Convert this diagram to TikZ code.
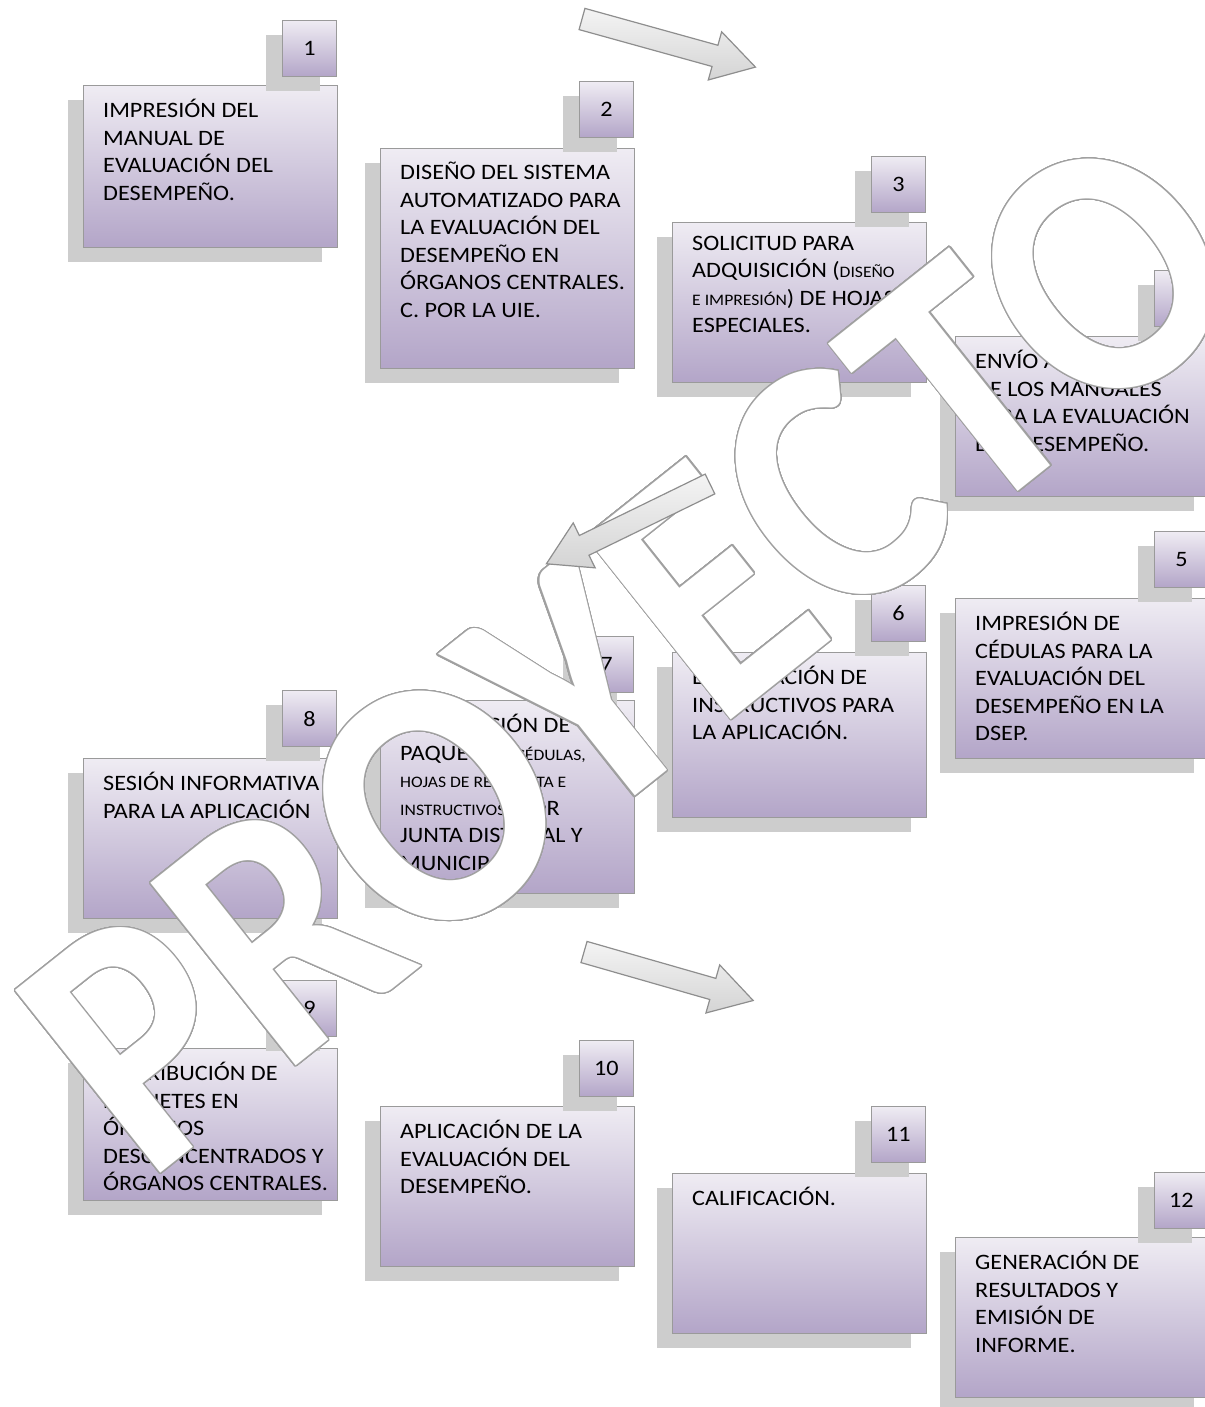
\documentclass[tikz,border=0pt]{standalone}
\usepackage{fontspec}
\setmainfont{Carlito}[FakeStretch=1.1]
\newfontfamily\markfont{Carlito}
\usepackage[copies]{contour}
\usetikzlibrary{shadows}

\definecolor{boxtop}{HTML}{EFECF3}
\definecolor{boxmid}{HTML}{DCD5E5}
\definecolor{boxbot}{HTML}{B3A5C8}
\definecolor{boxline}{HTML}{9A9A9A}
\definecolor{boxshade}{HTML}{CDCDCD}
\definecolor{arrowtop}{HTML}{F4F4F4}
\definecolor{arrowbot}{HTML}{D4D4D4}
\definecolor{arrowline}{HTML}{8E8E8E}
\definecolor{markline}{HTML}{A0A0A0}

\newcommand{\smalltxt}[1]{{\fontsize{16}{27.5}\selectfont #1}}
\contourlength{1.2pt}
\contournumber{40}

\begin{document}
\begin{tikzpicture}[%
  x=1pt, y=-1pt,
  taskbox/.style={draw=boxline, line width=1.2pt, top color=boxtop,
    middle color=boxmid, bottom color=boxbot, minimum width=254pt,
    inner sep=0pt, anchor=north west,
    general shadow={fill=boxshade, shadow xshift=-16pt, shadow yshift=-14pt}},
  numbox/.style={taskbox, minimum width=54pt, minimum height=56pt,
    anchor=north east, font=\fontsize{22}{27.5}\selectfont},
  tasktext/.style={anchor=north west, align=left, inner sep=0pt,
    font=\fontsize{22}{27.5}\selectfont},
  blockarrow/.style={draw=arrowline, line width=1.2pt, top color=arrowtop,
    bottom color=arrowbot},
]

  \useasboundingbox (0,0) rectangle (1204,1407);

  % first row
  \node[taskbox, minimum height=162pt] (b1) at (83,85) {};
  \node[numbox] (n1) at (337,20) {1};
  \node[tasktext] (t1) at ([xshift=20pt, yshift=-14pt]b1.north west)
    {IMPRESIÓN DEL\\MANUAL DE\\EVALUACIÓN DEL\\DESEMPEÑO.};

  \node[taskbox, minimum height=220pt] (b2) at (380,148) {};
  \node[numbox] (n2) at (634,81) {2};
  \node[tasktext] (t2) at ([xshift=20pt, yshift=-14pt]b2.north west)
    {DISEÑO DEL SISTEMA\\AUTOMATIZADO PARA\\LA EVALUACIÓN DEL\\DESEMPEÑO EN\\ÓRGANOS CENTRALES.\\C. POR LA UIE.};

  \node[taskbox, minimum height=160pt] (b3) at (672,222) {};
  \node[numbox] (n3) at (926,156) {3};
  \node[tasktext] (t3) at ([xshift=20pt, yshift=-14pt]b3.north west)
    {SOLICITUD PARA\\ADQUISICIÓN (\smalltxt{DISEÑO}\\\smalltxt{E IMPRESIÓN}) DE HOJAS\\ESPECIALES.};

  \node[taskbox, minimum height=160pt] (b4) at (955,336) {};
  \node[numbox] (n4) at (1209,270) {4};
  \node[tasktext] (t4) at ([xshift=20pt, yshift=-14pt]b4.north west)
    {ENVÍO A LAS JUNTAS\\DE LOS MANUALES\\PARA LA EVALUACIÓN\\DEL DESEMPEÑO.};

  % second row
  \node[taskbox, minimum height=160pt] (b5) at (955,598) {};
  \node[numbox] (n5) at (1209,531) {5};
  \node[tasktext] (t5) at ([xshift=20pt, yshift=-14pt]b5.north west)
    {IMPRESIÓN DE\\CÉDULAS PARA LA\\EVALUACIÓN DEL\\DESEMPEÑO EN LA\\DSEP.};

  \node[taskbox, minimum height=165pt] (b6) at (672,652) {};
  \node[numbox] (n6) at (926,585) {6};
  \node[tasktext] (t6) at ([xshift=20pt, yshift=-14pt]b6.north west)
    {ELABORACIÓN DE\\INSTRUCTIVOS PARA\\LA APLICACIÓN.};

  \node[taskbox, minimum height=193pt] (b7) at (380,700) {};
  \node[numbox] (n7) at (634,636) {7};
  \node[tasktext] (t7) at ([xshift=20pt, yshift=-14pt]b7.north west)
    {INTEGRACIÓN DE\\PAQUETES (\smalltxt{CÉDULAS,}\\\smalltxt{HOJAS DE RESPUESTA E}\\\smalltxt{INSTRUCTIVOS}) POR\\JUNTA DISTRITAL Y\\MUNICIPAL.};

  \node[taskbox, minimum height=160pt] (b8) at (83,758) {};
  \node[numbox] (n8) at (337,690) {8};
  \node[tasktext] (t8) at ([xshift=20pt, yshift=-14pt]b8.north west)
    {SESIÓN INFORMATIVA\\PARA LA APLICACIÓN};

  % third row
  \node[taskbox, minimum height=152pt] (b9) at (83,1048) {};
  \node[numbox] (n9) at (337,980) {9};
  \node[tasktext] (t9) at ([xshift=20pt, yshift=-14pt]b9.north west)
    {DISTRIBUCIÓN DE\\PAQUETES EN\\ÓRGANOS\\DESCONCENTRADOS Y\\ÓRGANOS CENTRALES.};

  \node[taskbox, minimum height=160pt] (b10) at (380,1106) {};
  \node[numbox] (n10) at (634,1040) {10};
  \node[tasktext] (t10) at ([xshift=20pt, yshift=-14pt]b10.north west)
    {APLICACIÓN DE LA\\EVALUACIÓN DEL\\DESEMPEÑO.};

  \node[taskbox, minimum height=160pt] (b11) at (672,1173) {};
  \node[numbox] (n11) at (926,1106) {11};
  \node[tasktext] (t11) at ([xshift=20pt, yshift=-14pt]b11.north west)
    {CALIFICACIÓN.};

  \node[taskbox, minimum height=160pt] (b12) at (955,1237) {};
  \node[numbox] (n12) at (1209,1172) {12};
  \node[tasktext] (t12) at ([xshift=20pt, yshift=-14pt]b12.north west)
    {GENERACIÓN DE\\RESULTADOS Y\\EMISIÓN DE\\INFORME.};

  % watermark
  \node[rotate=38.5, inner sep=0pt] (mark) at (632,650)
    {\color{white}\scalebox{0.9}[1]{\contour{markline}{\fontsize{360}{360}\markfont\bfseries PROYECTO}}};

  % block arrows between the rows
  \begin{scope}[shift={(582,19)}, rotate=-15.5]
    \shade[blockarrow] (0,-11) -- (138,-11) -- (138,-25) -- (180,0)
      -- (138,25) -- (138,11) -- (0,11) -- cycle;
  \end{scope}
  \begin{scope}[shift={(710,484)}, rotate=206]
    \shade[blockarrow] (0,-11) -- (140,-11) -- (140,-25) -- (182,0)
      -- (140,25) -- (140,11) -- (0,11) -- cycle;
  \end{scope}
  \begin{scope}[shift={(584,952)}, rotate=-16]
    \shade[blockarrow] (0,-11) -- (134,-11) -- (134,-25) -- (176,0)
      -- (134,25) -- (134,11) -- (0,11) -- cycle;
  \end{scope}

\end{tikzpicture}
\end{document}
